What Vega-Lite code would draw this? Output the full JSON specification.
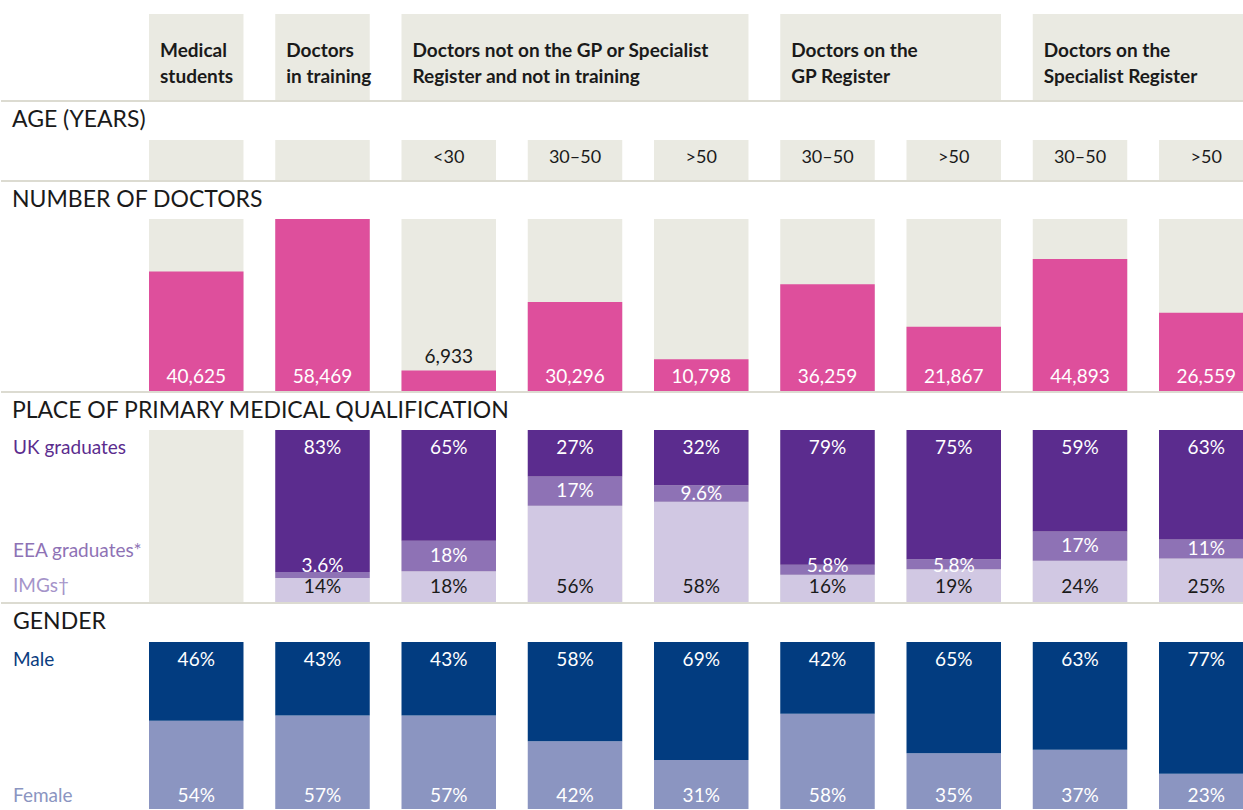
{
  "$schema": "https://vega.github.io/schema/vega-lite/v6.json",
  "background": "white",
  "padding": {"top": 14, "left": 0, "right": 0, "bottom": 0},
  "spacing": 7,
  "resolve": {"scale": {"color": "independent"}},
  "datasets": {
    "columns": [
      {"col": "Medical students", "age": "", "doctors": 40625, "uk": null, "eea": null, "img": null, "male": 0.46, "female": 0.54},
      {"col": "Doctors in training", "age": "", "doctors": 58469, "uk": 0.83, "eea": 0.036, "img": 0.14, "male": 0.43, "female": 0.57},
      {"col": "Not registered, <30", "age": "<30", "doctors": 6933, "uk": 0.65, "eea": 0.18, "img": 0.18, "male": 0.43, "female": 0.57},
      {"col": "Not registered, 30–50", "age": "30–50", "doctors": 30296, "uk": 0.27, "eea": 0.17, "img": 0.56, "male": 0.58, "female": 0.42},
      {"col": "Not registered, >50", "age": ">50", "doctors": 10798, "uk": 0.32, "eea": 0.096, "img": 0.58, "male": 0.69, "female": 0.31},
      {"col": "GP Register, 30–50", "age": "30–50", "doctors": 36259, "uk": 0.79, "eea": 0.058, "img": 0.16, "male": 0.42, "female": 0.58},
      {"col": "GP Register, >50", "age": ">50", "doctors": 21867, "uk": 0.75, "eea": 0.058, "img": 0.19, "male": 0.65, "female": 0.35},
      {"col": "Specialist Register, 30–50", "age": "30–50", "doctors": 44893, "uk": 0.59, "eea": 0.17, "img": 0.24, "male": 0.63, "female": 0.37},
      {"col": "Specialist Register, >50", "age": ">50", "doctors": 26559, "uk": 0.63, "eea": 0.11, "img": 0.25, "male": 0.77, "female": 0.23}
    ],
    "groups": [
      {"group": "Medical\nstudents", "first": "Medical students", "last": "Medical students"},
      {"group": "Doctors\nin training", "first": "Doctors in training", "last": "Doctors in training"},
      {"group": "Doctors not on the GP or Specialist\nRegister and not in training", "first": "Not registered, <30", "last": "Not registered, >50"},
      {"group": "Doctors on the\nGP Register", "first": "GP Register, 30–50", "last": "GP Register, >50"},
      {"group": "Doctors on the\nSpecialist Register", "first": "Specialist Register, 30–50", "last": "Specialist Register, >50"}
    ]
  },
  "vconcat": [
    {
      "width": 1243, "height": 86,
      "data": {"name": "groups"},
      "layer": [
        {"mark": {"type": "rect", "color": "#eaeae2", "clip": true},
         "encoding": {
           "x": {"field": "first", "type": "nominal", "bandPosition": 0, "axis": null,
                 "scale": {"domain": ["Medical students", "Doctors in training", "Not registered, <30", "Not registered, 30–50", "Not registered, >50", "GP Register, 30–50", "GP Register, >50", "Specialist Register, 30–50", "Specialist Register, >50"], "range": [148, 1252.5], "paddingInner": 0.2515, "paddingOuter": 0}},
           "x2": {"field": "last", "bandPosition": 1}}},
        {"mark": {"type": "text", "align": "left", "baseline": "alphabetic", "dx": 11, "fontSize": 19, "fontWeight": "bold", "lineBreak": "\n", "lineHeight": 26, "color": "#1a1a1a"},
         "encoding": {
           "x": {"field": "first", "type": "nominal", "bandPosition": 0},
           "text": {"field": "group"}}},
        {"data": {"values": [{}]},
         "mark": {"type": "rule", "color": "#dcdbd1", "strokeWidth": 2, "xOffset": 12, "yOffset": 1},
         "encoding": {"y": {"value": "height"}}}
      ]
    },
    {
      "title": {"text": "AGE (YEARS)", "offset": 8},
      "width": 1243, "height": 40,
      "data": {"name": "columns"},
      "layer": [
        {"mark": {"type": "bar", "color": "#eaeae2", "clip": true},
         "encoding": {
           "x": {"field": "col", "type": "nominal", "axis": null,
                 "scale": {"domain": ["Medical students", "Doctors in training", "Not registered, <30", "Not registered, 30–50", "Not registered, >50", "GP Register, 30–50", "GP Register, >50", "Specialist Register, 30–50", "Specialist Register, >50"], "range": [148, 1252.5], "paddingInner": 0.2515, "paddingOuter": 0}}}},
        {"mark": {"type": "text", "baseline": "middle", "dy": -2, "fontSize": 18, "color": "#1a1a1a"},
         "encoding": {
           "x": {"field": "col", "type": "nominal"},
           "text": {"field": "age"}}},
        {"data": {"values": [{}]},
         "mark": {"type": "rule", "color": "#dcdbd1", "strokeWidth": 2, "xOffset": 12, "yOffset": 1},
         "encoding": {"y": {"value": "height"}}}
      ]
    },
    {
      "title": {"text": "NUMBER OF DOCTORS", "offset": 7},
      "width": 1243, "height": 172,
      "data": {"name": "columns"},
      "layer": [
        {"transform": [{"joinaggregate": [{"op": "max", "field": "doctors", "as": "most"}]}],
         "mark": {"type": "bar", "color": "#eaeae2", "clip": true},
         "encoding": {
           "x": {"field": "col", "type": "nominal", "axis": null,
                 "scale": {"domain": ["Medical students", "Doctors in training", "Not registered, <30", "Not registered, 30–50", "Not registered, >50", "GP Register, 30–50", "GP Register, >50", "Specialist Register, 30–50", "Specialist Register, >50"], "range": [148, 1252.5], "paddingInner": 0.2515, "paddingOuter": 0}},
           "y": {"field": "most", "type": "quantitative", "axis": null, "scale": {"zero": true, "nice": false}}}},
        {"mark": {"type": "bar", "color": "#de4f9c", "clip": true},
         "encoding": {
           "x": {"field": "col", "type": "nominal"},
           "y": {"field": "doctors", "type": "quantitative"}}},
        {"transform": [{"filter": "datum.doctors >= 10000"}],
         "mark": {"type": "text", "baseline": "alphabetic", "dy": -8, "fontSize": 19, "color": "white"},
         "encoding": {
           "x": {"field": "col", "type": "nominal"},
           "y": {"datum": 0, "type": "quantitative"},
           "text": {"field": "doctors", "type": "quantitative", "format": ","}}},
        {"transform": [{"filter": "datum.doctors < 10000"}],
         "mark": {"type": "text", "baseline": "alphabetic", "dy": -8, "fontSize": 19, "color": "#1a1a1a"},
         "encoding": {
           "x": {"field": "col", "type": "nominal"},
           "y": {"field": "doctors", "type": "quantitative"},
           "text": {"field": "doctors", "type": "quantitative", "format": ","}}},
        {"data": {"values": [{}]},
         "mark": {"type": "rule", "color": "#dcdbd1", "strokeWidth": 2, "xOffset": 12, "yOffset": 1},
         "encoding": {"y": {"value": "height"}}}
      ]
    },
    {
      "title": {"text": "PLACE OF PRIMARY MEDICAL QUALIFICATION", "offset": 7},
      "width": 1243, "height": 172,
      "data": {"name": "columns"},
      "layer": [
        {"mark": {"type": "bar", "color": "#eaeae2", "clip": true},
         "encoding": {
           "x": {"field": "col", "type": "nominal", "axis": null,
                 "scale": {"domain": ["Medical students", "Doctors in training", "Not registered, <30", "Not registered, 30–50", "Not registered, >50", "GP Register, 30–50", "GP Register, >50", "Specialist Register, 30–50", "Specialist Register, >50"], "range": [148, 1252.5], "paddingInner": 0.2515, "paddingOuter": 0}},
           "y": {"datum": 1, "type": "quantitative", "axis": null, "scale": {"domain": [0, 1]}}}},
        {"transform": [
           {"fold": ["img", "eea", "uk"], "as": ["origin", "share"]},
           {"filter": {"field": "share", "valid": true}},
           {"stack": "share", "groupby": ["col"], "offset": "normalize", "as": ["s0", "s1"]}],
         "mark": {"type": "bar", "clip": true},
         "encoding": {
           "x": {"field": "col", "type": "nominal"},
           "y": {"field": "s0", "type": "quantitative"},
           "y2": {"field": "s1"},
           "color": {"field": "origin", "type": "nominal", "legend": null,
                     "scale": {"domain": ["uk", "eea", "img"], "range": ["#5b2c8e", "#8e72b5", "#d1c8e3"]}}}},
        {"transform": [
           {"fold": ["img", "eea", "uk"], "as": ["origin", "share"]},
           {"filter": {"field": "share", "valid": true}},
           {"filter": {"field": "origin", "equal": "uk"}}],
         "mark": {"type": "text", "baseline": "alphabetic", "dy": 24, "fontSize": 19, "color": "white"},
         "encoding": {
           "x": {"field": "col", "type": "nominal"},
           "y": {"datum": 1, "type": "quantitative"},
           "text": {"field": "share", "type": "quantitative", "format": ".1~%"}}},
        {"transform": [
           {"fold": ["img", "eea", "uk"], "as": ["origin", "share"]},
           {"filter": {"field": "share", "valid": true}},
           {"filter": {"field": "origin", "equal": "img"}}],
         "mark": {"type": "text", "baseline": "alphabetic", "dy": -9, "fontSize": 19, "color": "#1a1a1a"},
         "encoding": {
           "x": {"field": "col", "type": "nominal"},
           "y": {"datum": 0, "type": "quantitative"},
           "text": {"field": "share", "type": "quantitative", "format": ".1~%"}}},
        {"transform": [
           {"fold": ["img", "eea", "uk"], "as": ["origin", "share"]},
           {"filter": {"field": "share", "valid": true}},
           {"stack": "share", "groupby": ["col"], "offset": "normalize", "as": ["s0", "s1"]},
           {"filter": "datum.origin === 'eea' && datum.share >= 0.07"},
           {"fold": ["s0", "s1"], "as": ["edge", "pos"]}],
         "mark": {"type": "text", "baseline": "middle", "fontSize": 19, "color": "white"},
         "encoding": {
           "x": {"field": "col", "type": "nominal"},
           "y": {"field": "pos", "aggregate": "mean", "type": "quantitative"},
           "text": {"field": "share", "type": "quantitative", "format": ".1~%"}}},
        {"transform": [
           {"fold": ["img", "eea", "uk"], "as": ["origin", "share"]},
           {"filter": {"field": "share", "valid": true}},
           {"filter": "datum.origin === 'eea' && datum.share < 0.07"}],
         "mark": {"type": "text", "baseline": "alphabetic", "dy": -30, "fontSize": 19, "color": "white"},
         "encoding": {
           "x": {"field": "col", "type": "nominal"},
           "y": {"datum": 0, "type": "quantitative"},
           "text": {"field": "share", "type": "quantitative", "format": ".1~%"}}},
        {"data": {"values": [{"label": "UK graduates"}]},
         "mark": {"type": "text", "align": "left", "baseline": "alphabetic", "dx": -136, "dy": 24, "fontSize": 19, "color": "#5b2c8e"},
         "encoding": {
           "x": {"datum": "Medical students", "type": "nominal", "bandPosition": 0},
           "y": {"datum": 1, "type": "quantitative"},
           "text": {"field": "label"}}},
        {"data": {"values": [{"label": "EEA graduates*"}]},
         "mark": {"type": "text", "align": "left", "baseline": "alphabetic", "dx": -136, "dy": -45, "fontSize": 19, "color": "#8e72b5"},
         "encoding": {
           "x": {"datum": "Medical students", "type": "nominal", "bandPosition": 0},
           "y": {"datum": 0, "type": "quantitative"},
           "text": {"field": "label"}}},
        {"data": {"values": [{"label": "IMGs†"}]},
         "mark": {"type": "text", "align": "left", "baseline": "alphabetic", "dx": -136, "dy": -10, "fontSize": 19, "color": "#a594c9"},
         "encoding": {
           "x": {"datum": "Medical students", "type": "nominal", "bandPosition": 0},
           "y": {"datum": 0, "type": "quantitative"},
           "text": {"field": "label"}}},
        {"data": {"values": [{}]},
         "mark": {"type": "rule", "color": "#dcdbd1", "strokeWidth": 2, "xOffset": 12, "yOffset": 1},
         "encoding": {"y": {"value": "height"}}}
      ]
    },
    {
      "title": {"text": "GENDER", "offset": 8},
      "width": 1243, "height": 167,
      "data": {"name": "columns"},
      "layer": [
        {"transform": [
           {"fold": ["female", "male"], "as": ["sex", "share"]},
           {"stack": "share", "groupby": ["col"], "offset": "normalize", "as": ["s0", "s1"]}],
         "mark": {"type": "bar", "clip": true},
         "encoding": {
           "x": {"field": "col", "type": "nominal", "axis": null,
                 "scale": {"domain": ["Medical students", "Doctors in training", "Not registered, <30", "Not registered, 30–50", "Not registered, >50", "GP Register, 30–50", "GP Register, >50", "Specialist Register, 30–50", "Specialist Register, >50"], "range": [148, 1252.5], "paddingInner": 0.2515, "paddingOuter": 0}},
           "y": {"field": "s0", "type": "quantitative", "axis": null, "scale": {"domain": [0, 1], "range": [171, 0]}},
           "y2": {"field": "s1"},
           "color": {"field": "sex", "type": "nominal", "legend": null,
                     "scale": {"domain": ["male", "female"], "range": ["#023c80", "#8b95c1"]}}}},
        {"transform": [{"fold": ["female", "male"], "as": ["sex", "share"]}, {"filter": {"field": "sex", "equal": "male"}}],
         "mark": {"type": "text", "baseline": "alphabetic", "dy": 24, "fontSize": 19, "color": "white"},
         "encoding": {
           "x": {"field": "col", "type": "nominal"},
           "y": {"datum": 1, "type": "quantitative"},
           "text": {"field": "share", "type": "quantitative", "format": ".1~%"}}},
        {"transform": [{"fold": ["female", "male"], "as": ["sex", "share"]}, {"filter": {"field": "sex", "equal": "female"}}],
         "mark": {"type": "text", "baseline": "alphabetic", "dy": -11, "fontSize": 19, "color": "white"},
         "encoding": {
           "x": {"field": "col", "type": "nominal"},
           "y": {"datum": 0, "type": "quantitative"},
           "text": {"field": "share", "type": "quantitative", "format": ".1~%"}}},
        {"data": {"values": [{"label": "Male"}]},
         "mark": {"type": "text", "align": "left", "baseline": "alphabetic", "dx": -136, "dy": 24, "fontSize": 19, "color": "#0b3c80"},
         "encoding": {
           "x": {"datum": "Medical students", "type": "nominal", "bandPosition": 0},
           "y": {"datum": 1, "type": "quantitative"},
           "text": {"field": "label"}}},
        {"data": {"values": [{"label": "Female"}]},
         "mark": {"type": "text", "align": "left", "baseline": "alphabetic", "dx": -136, "dy": -11, "fontSize": 19, "color": "#8b95c1"},
         "encoding": {
           "x": {"datum": "Medical students", "type": "nominal", "bandPosition": 0},
           "y": {"datum": 0, "type": "quantitative"},
           "text": {"field": "label"}}}
      ]
    }
  ],
  "config": {
    "view": {"stroke": null},
    "font": "Lato",
    "title": {"font": "Lato", "fontSize": 23, "fontWeight": "normal", "color": "#1a1a1a", "anchor": "start", "baseline": "alphabetic", "dx": 12}
  }
}
